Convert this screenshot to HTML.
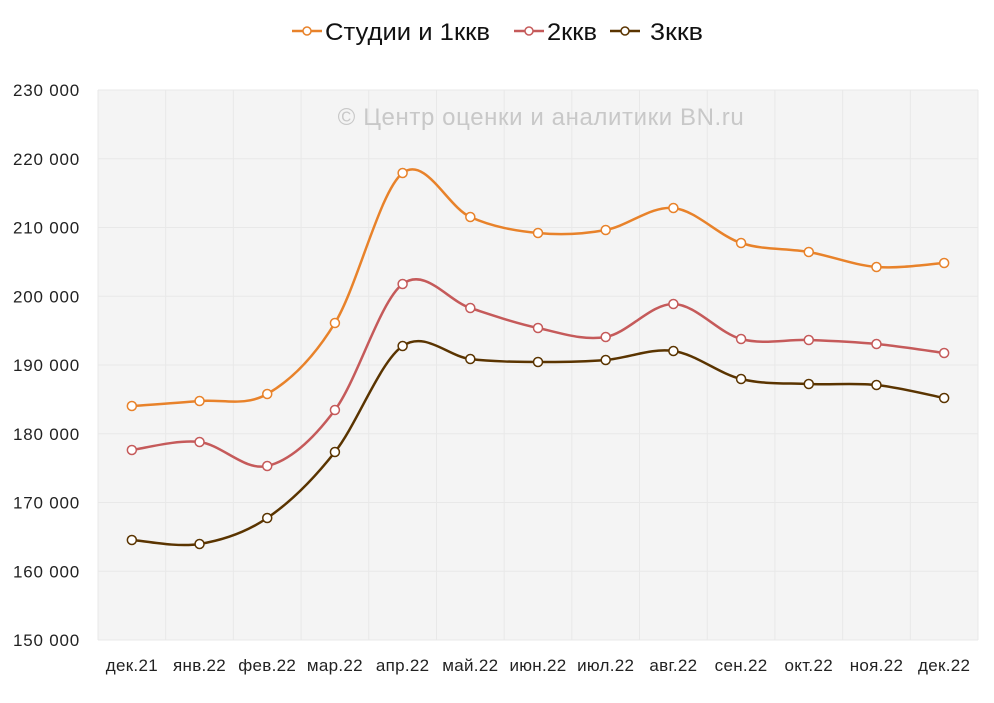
<!DOCTYPE html>
<html><head><meta charset="utf-8"><style>
body{margin:0;background:#fff;width:994px;height:698px;overflow:hidden;font-family:"Liberation Sans","DejaVu Sans",sans-serif;}
</style></head><body>
<svg id="s" width="994" height="698" xmlns="http://www.w3.org/2000/svg" font-family="Liberation Sans, DejaVu Sans, sans-serif">
<rect x="98" y="90" width="880" height="550" fill="#f4f4f4"/>
<g id="grid" stroke="#e8e8e8" stroke-width="1"></g>
<text x="541" y="125" text-anchor="middle" font-size="24" letter-spacing="0.6" fill="#c8c8c8">© Центр оценки и аналитики BN.ru</text>
<g id="yl" font-size="17" letter-spacing="0.8" fill="#222" text-anchor="end"></g>
<g id="xl" font-size="17" letter-spacing="0.3" fill="#222" text-anchor="middle"></g>
<g id="series"></g>
<g font-size="24" fill="#111">
<line x1="292" y1="31" x2="322" y2="31" stroke="#e8822a" stroke-width="2.5"/><circle cx="307" cy="31" r="4" fill="#fff" stroke="#e8822a" stroke-width="1.5"/>
<text x="325" y="40" textLength="165" lengthAdjust="spacingAndGlyphs">Студии и 1ккв</text>
<line x1="514" y1="31" x2="544" y2="31" stroke="#c55a5a" stroke-width="2.5"/><circle cx="529" cy="31" r="4" fill="#fff" stroke="#c55a5a" stroke-width="1.5"/>
<text x="547" y="40" textLength="50" lengthAdjust="spacingAndGlyphs">2ккв</text>
<line x1="610" y1="31" x2="640" y2="31" stroke="#5a3400" stroke-width="2.5"/><circle cx="625" cy="31" r="4" fill="#fff" stroke="#5a3400" stroke-width="1.5"/>
<text x="650" y="40" textLength="53" lengthAdjust="spacingAndGlyphs">3ккв</text>
</g>
</svg>
<script>
var NS="http://www.w3.org/2000/svg";
function el(t,a,p){var e=document.createElementNS(NS,t);for(var k in a)e.setAttribute(k,a[k]);document.getElementById(p).appendChild(e);return e;}
var x0=98,w=880,n=13,dx=w/n;
for(var i=0;i<=8;i++){var y=90+i*68.75;el('line',{x1:x0,x2:x0+w,y1:y,y2:y},'grid');
var t=el('text',{x:80,y:y+6},'yl');t.textContent=(230-i*10)+' 000';}
for(var i=0;i<=n;i++){var x=x0+i*dx;el('line',{x1:x,x2:x,y1:90,y2:640},'grid');}
var L=['дек.21','янв.22','фев.22','мар.22','апр.22','май.22','июн.22','июл.22','авг.22','сен.22','окт.22','ноя.22','дек.22'];
L.forEach(function(s,i){var t=el('text',{x:x0+dx*(i+.5),y:671},'xl');t.textContent=s;});
var D=[["#e8822a",[406,401,394,323,173,217,233,230,208,243,252,267,263]],
["#c55a5a",[450,442,466,410,284,308,328,337,304,339,340,344,353]],
["#5a3400",[540,544,518,452,346,359,362,360,351,379,384,385,398]]];
D.forEach(function(d){var p=d[1].map(function(y,i){return[x0+dx*(i+.5),y];});
var s="M"+p[0][0]+","+p[0][1];
for(var i=0;i<p.length-1;i++){var a=p[i-1]||p[i],b=p[i],c=p[i+1],e=p[i+2]||c,k=1/6;
s+=" C"+(b[0]+(c[0]-a[0])*k)+","+(b[1]+(c[1]-a[1])*k)+" "+(c[0]-(e[0]-b[0])*k)+","+(c[1]-(e[1]-b[1])*k)+" "+c[0]+","+c[1];}
el('path',{d:s,fill:'none',stroke:d[0],'stroke-width':2.5},'series');
p.forEach(function(q){el('circle',{cx:q[0],cy:q[1],r:4.5,fill:'#fff',stroke:d[0],'stroke-width':1.5},'series');});});
</script>
</body></html>
